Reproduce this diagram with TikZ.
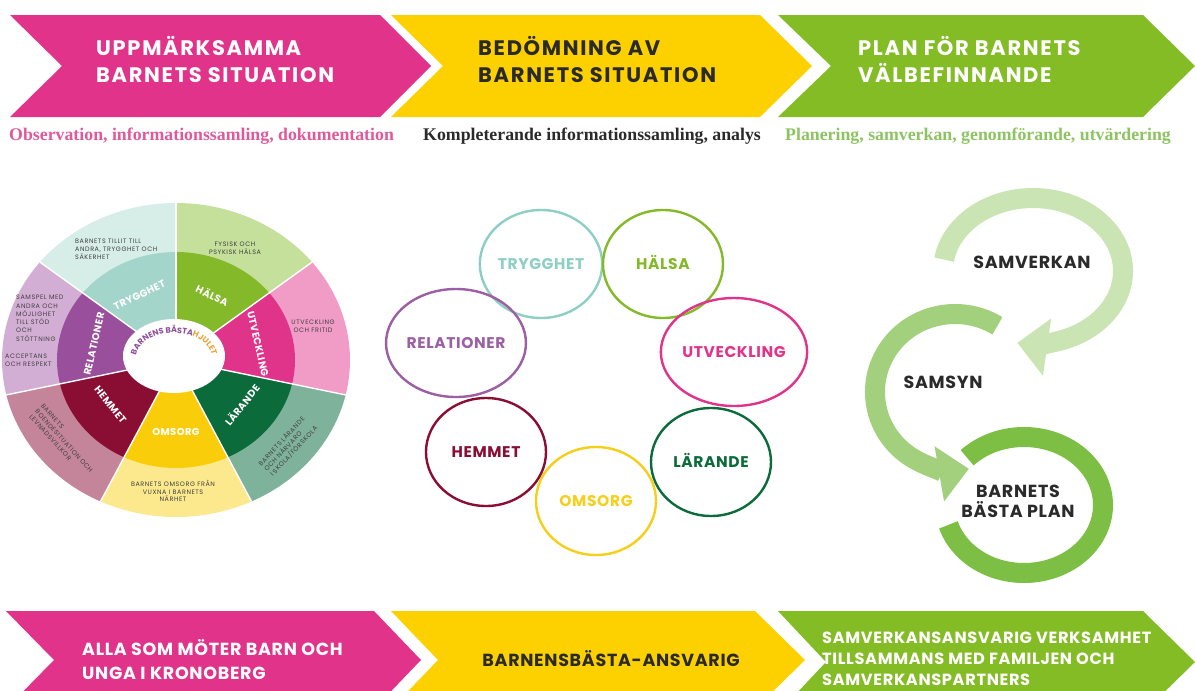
\documentclass[tikz,border=0pt]{standalone}
\usepackage{fontspec}
\setmainfont{Liberation Serif}
\setsansfont{Poppins}
\newfontfamily\pwide[LetterSpace=8]{Poppins}
\newfontfamily\pmed[LetterSpace=4]{Poppins}
\newfontfamily\pout[LetterSpace=9]{Poppins}
\usetikzlibrary{arrows.meta,decorations.text,shapes.geometric}
\definecolor{bpink}{HTML}{E2338A}
\definecolor{byellow}{HTML}{FDD000}
\definecolor{bgreen}{HTML}{84BC26}
\definecolor{tdark}{HTML}{2A2A2A}
\definecolor{spink}{HTML}{E05A9B}
\definecolor{sgreen}{HTML}{8DC462}
\definecolor{otext}{HTML}{404040}
\definecolor{wtryg}{HTML}{A3D5CB}\definecolor{wtrygL}{HTML}{D6EDE8}
\definecolor{whals}{HTML}{84B92A}\definecolor{whalsL}{HTML}{C5E09A}
\definecolor{wutve}{HTML}{E0338A}\definecolor{wutveL}{HTML}{F19BC7}
\definecolor{wlara}{HTML}{0C6B3A}\definecolor{wlaraL}{HTML}{7FB29A}
\definecolor{womso}{HTML}{F9CD0A}\definecolor{womsoL}{HTML}{FCE98E}
\definecolor{whemm}{HTML}{8A0D33}\definecolor{whemmL}{HTML}{C4849A}
\definecolor{wrela}{HTML}{9A4F9C}\definecolor{wrelaL}{HTML}{D3AED4}
\definecolor{ctryg}{HTML}{8ECFC5}
\definecolor{crela}{HTML}{9C5FA4}
\definecolor{comso}{HTML}{F5CF1A}
\definecolor{cpurple}{HTML}{8E4F9B}
\definecolor{corange}{HTML}{F0A030}
\definecolor{arrA}{HTML}{CAE5B3}
\definecolor{arrB}{HTML}{A3D07C}
\definecolor{arrC}{HTML}{7DBF45}
\begin{document}
\begin{tikzpicture}[x=1pt,y=1pt,
  ttl/.style={font=\pwide\bfseries\fontsize{21}{21}\selectfont, anchor=base west, inner sep=0pt},
  sub/.style={font=\rmfamily\bfseries\fontsize{17.8}{17.8}\selectfont, anchor=base west, inner sep=0pt},
  btxt/.style={font=\pmed\bfseries\fontsize{17.5}{17.5}\selectfont, anchor=base west, inner sep=0pt},
  gtxt/.style={font=\pmed\bfseries\fontsize{16.2}{16.2}\selectfont, anchor=base west, inner sep=0pt, text=white},
  wlab/.style={font=\pmed\bfseries\fontsize{10}{10}\selectfont, text=white, inner sep=0pt},
  otx/.style={font=\pout\fontsize{6.4}{7.8}\selectfont, text=otext, inner sep=0pt},
  ring/.style={ellipse, draw=#1, line width=2.4pt, minimum width=120pt, minimum height=108pt,
    inner sep=0pt, text=#1, text height=11pt, text depth=0pt,
    font=\pmed\bfseries\fontsize{15.5}{15.5}\selectfont},
  rtxt/.style={font=\pmed\bfseries\fontsize{17.5}{20}\selectfont, text=tdark, inner sep=0pt},
  band/.style={line width=20pt}
]
\useasboundingbox (0,0) rectangle (1195,-691);
\clip (0,0) rectangle (1195,-691);
\fill[white] (0,0) rectangle (1195,-691);

% ---- top banners
\fill[bpink] (10,-15) -- (380,-15) -- (431,-66) -- (380,-117) -- (10,-117) -- (62,-66) -- cycle;
\fill[byellow] (391,-15) -- (760,-15) -- (812,-66) -- (760,-117) -- (391,-117) -- (443,-66) -- cycle;
\fill[bgreen] (778,-15) -- (1143,-15) -- (1195,-66) -- (1143,-117) -- (778,-117) -- (831,-66) -- cycle;
\node[ttl, text=white] (t1a) at (96,-55) {UPPMÄRKSAMMA};
\node[ttl, text=white] (t1b) at (96,-82) {BARNETS SITUATION};
\node[ttl, text=tdark] (t2a) at (478,-55) {BEDÖMNING AV};
\node[ttl, text=tdark] (t2b) at (478,-82) {BARNETS SITUATION};
\node[ttl, text=white] (t3a) at (858,-55) {PLAN FÖR BARNETS};
\node[ttl, text=white] (t3b) at (858,-82) {VÄLBEFINNANDE};

\node[sub, text=spink] (s1) at (9,-140) {Observation, informationssamling, dokumentation};
\node[sub, text=tdark] (s2) at (423,-140) {Kompleterande informationssamling, analys};
\node[sub, text=sgreen] (s3) at (785,-140) {Planering, samverkan, genomförande, utvärdering};

% ---- bottom banners
\fill[bpink] (6,-611) -- (374,-611) -- (421,-660) -- (374,-709) -- (6,-709) -- (54,-660) -- cycle;
\fill[byellow] (391,-611) -- (755,-611) -- (805,-660) -- (755,-709) -- (391,-709) -- (438,-660) -- cycle;
\fill[bgreen] (778,-611) -- (1143,-611) -- (1195,-662) -- (1143,-713) -- (778,-713) -- (826,-662) -- cycle;
\node[btxt, text=white] (b1a) at (82,-655) {ALLA SOM MÖTER BARN OCH};
\node[btxt, text=white] (b1b) at (82,-679) {UNGA I KRONOBERG};
\node[btxt, text=tdark, anchor=base east] (b2) at (740,-666) {BARNENSBÄSTA-ANSVARIG};
\node[gtxt] (b3a) at (822,-643) {SAMVERKANSANSVARIG VERKSAMHET};
\node[gtxt] (b3b) at (822,-664) {TILLSAMMANS MED FAMILJEN OCH};
\node[gtxt] (b3c) at (822,-685) {SAMVERKANSPARTNERS};

% ---- wheel
\coordinate (wc) at (176,-360);
\foreach \a/\mc/\oc in {38.571/whals/whalsL, 90/wtryg/wtrygL, 141.429/wrela/wrelaL,
  192.857/whemm/whemmL, 244.286/womso/womsoL, 295.714/wlara/wlaraL, 347.143/wutve/wutveL}{
  \fill[\oc] (wc) -- ++(\a:174 and 157) arc[start angle=\a, delta angle=51.43, x radius=174, y radius=157] -- cycle;
  \fill[\mc] (wc) -- ++(\a:119 and 108) arc[start angle=\a, delta angle=51.43, x radius=119, y radius=108] -- cycle;
}
\foreach \a in {38.571, 90, 141.429, 192.857, 244.286, 295.714, 347.143}{
  \draw[white, line width=1.4pt] (wc) -- ++(\a:174 and 157);
}
\fill[white] (174,-356) ellipse [x radius=51, y radius=37];

\path (wc) ++(64.3:84 and 72) node[wlab, rotate=-25.7] (m1) {HÄLSA};
\path (wc) ++(115.7:84 and 72) node[wlab, rotate=25.7] (m2) {TRYGGHET};
\path (wc) ++(167.1:84 and 72) node[wlab, rotate=77.1] (m3) {RELATIONER};
\path (wc) ++(218.6:84 and 72) node[wlab, rotate=-51.4] (m4) {HEMMET};
\path (wc) ++(270:84 and 72) node[wlab] (m5) {OMSORG};
\path (wc) ++(321.4:84 and 72) node[wlab, rotate=51.4] (m6) {LÄRANDE};
\path (wc) ++(12.9:84 and 72) node[wlab, rotate=-77.1] (m7) {UTVECKLING};

\node[otx, align=left, anchor=west] (o1) at (75,-249) {BARNETS TILLIT TILL\\ANDRA, TRYGGHET OCH\\SÄKERHET};
\node[otx, align=center] (o2) at (235,-248) {FYSISK OCH\\PSYKISK HÄLSA};
\node[otx, align=center] (o3) at (313,-326) {UTVECKLING\\OCH FRITID};
\node[otx, align=left, rotate=47] (o4) at (288,-446) {BARNETS LÄRANDE\\OCH NÄRVARO\\I SKOLA/FÖRSKOLA};
\node[otx, align=center] (o5) at (173,-491) {BARNETS OMSORG FRÅN\\VUXNA I BARNETS\\NÄRHET};
\node[otx, align=left, rotate=-48] (o6) at (64,-441) {BARNETS\\BOENDESITUATION OCH\\LEVNADSVILLKOR};
\node[otx, align=left, anchor=north west, font=\pout\fontsize{6.4}{8.3}\selectfont] (o7) at (16,-295) {SAMSPEL MED\\ANDRA OCH\\MÖJLIGHET\\TILL STÖD\\OCH\\STÖTTNING};
\node[otx, align=left, anchor=north west] (o8) at (5,-354) {ACCEPTANS\\OCH RESPEKT};

\path[decorate, decoration={text along path, text align=center,
  text={|\sffamily\bfseries\fontsize{8}{8}\selectfont\color{cpurple}|BARNENS BÄSTA|\sffamily\bfseries\fontsize{8}{8}\selectfont\color{corange}|HJULET}}]
  (174,-358) ++(200:38 and 25) arc[start angle=200, end angle=-20, x radius=38, y radius=25];

% ---- circles
\node[ring=ctryg] (c1) at (541,-264) {TRYGGHET};
\node[ring=whals] (c2) at (663,-264) {HÄLSA};
\node[ring=wutve] (c3) at (734,-352) {UTVECKLING};
\node[ring=wlara] (c4) at (711,-462) {LÄRANDE};
\node[ring=comso] (c5) at (596,-501) {OMSORG};
\node[ring=whemm] (c6) at (486,-452) {HEMMET};
\node[ring=crela] (c7) at (456,-343) {RELATIONER};

% ---- cycle arrows
\draw[band, arrC] (1024,-505) ++(136:79 and 68) arc[start angle=136, end angle=-163, x radius=79, y radius=68];
\draw[band, arrA, -{Triangle[width=56pt,length=30pt]}] (1033,-271) ++(171:90 and 73) arc[start angle=171, end angle=-100, x radius=90, y radius=73];
\draw[band, arrB, -{Triangle[width=54pt,length=30pt]}] (955,-392) ++(58:80 and 78) arc[start angle=58, end angle=280, x radius=80, y radius=78];
\node[rtxt] (r1) at (1032,-262) {SAMVERKAN};
\node[rtxt] (r2) at (943,-382) {SAMSYN};
\node[rtxt, align=center] (r3) at (1018,-501) {BARNETS\\BÄSTA PLAN};
\end{tikzpicture}
\end{document}
